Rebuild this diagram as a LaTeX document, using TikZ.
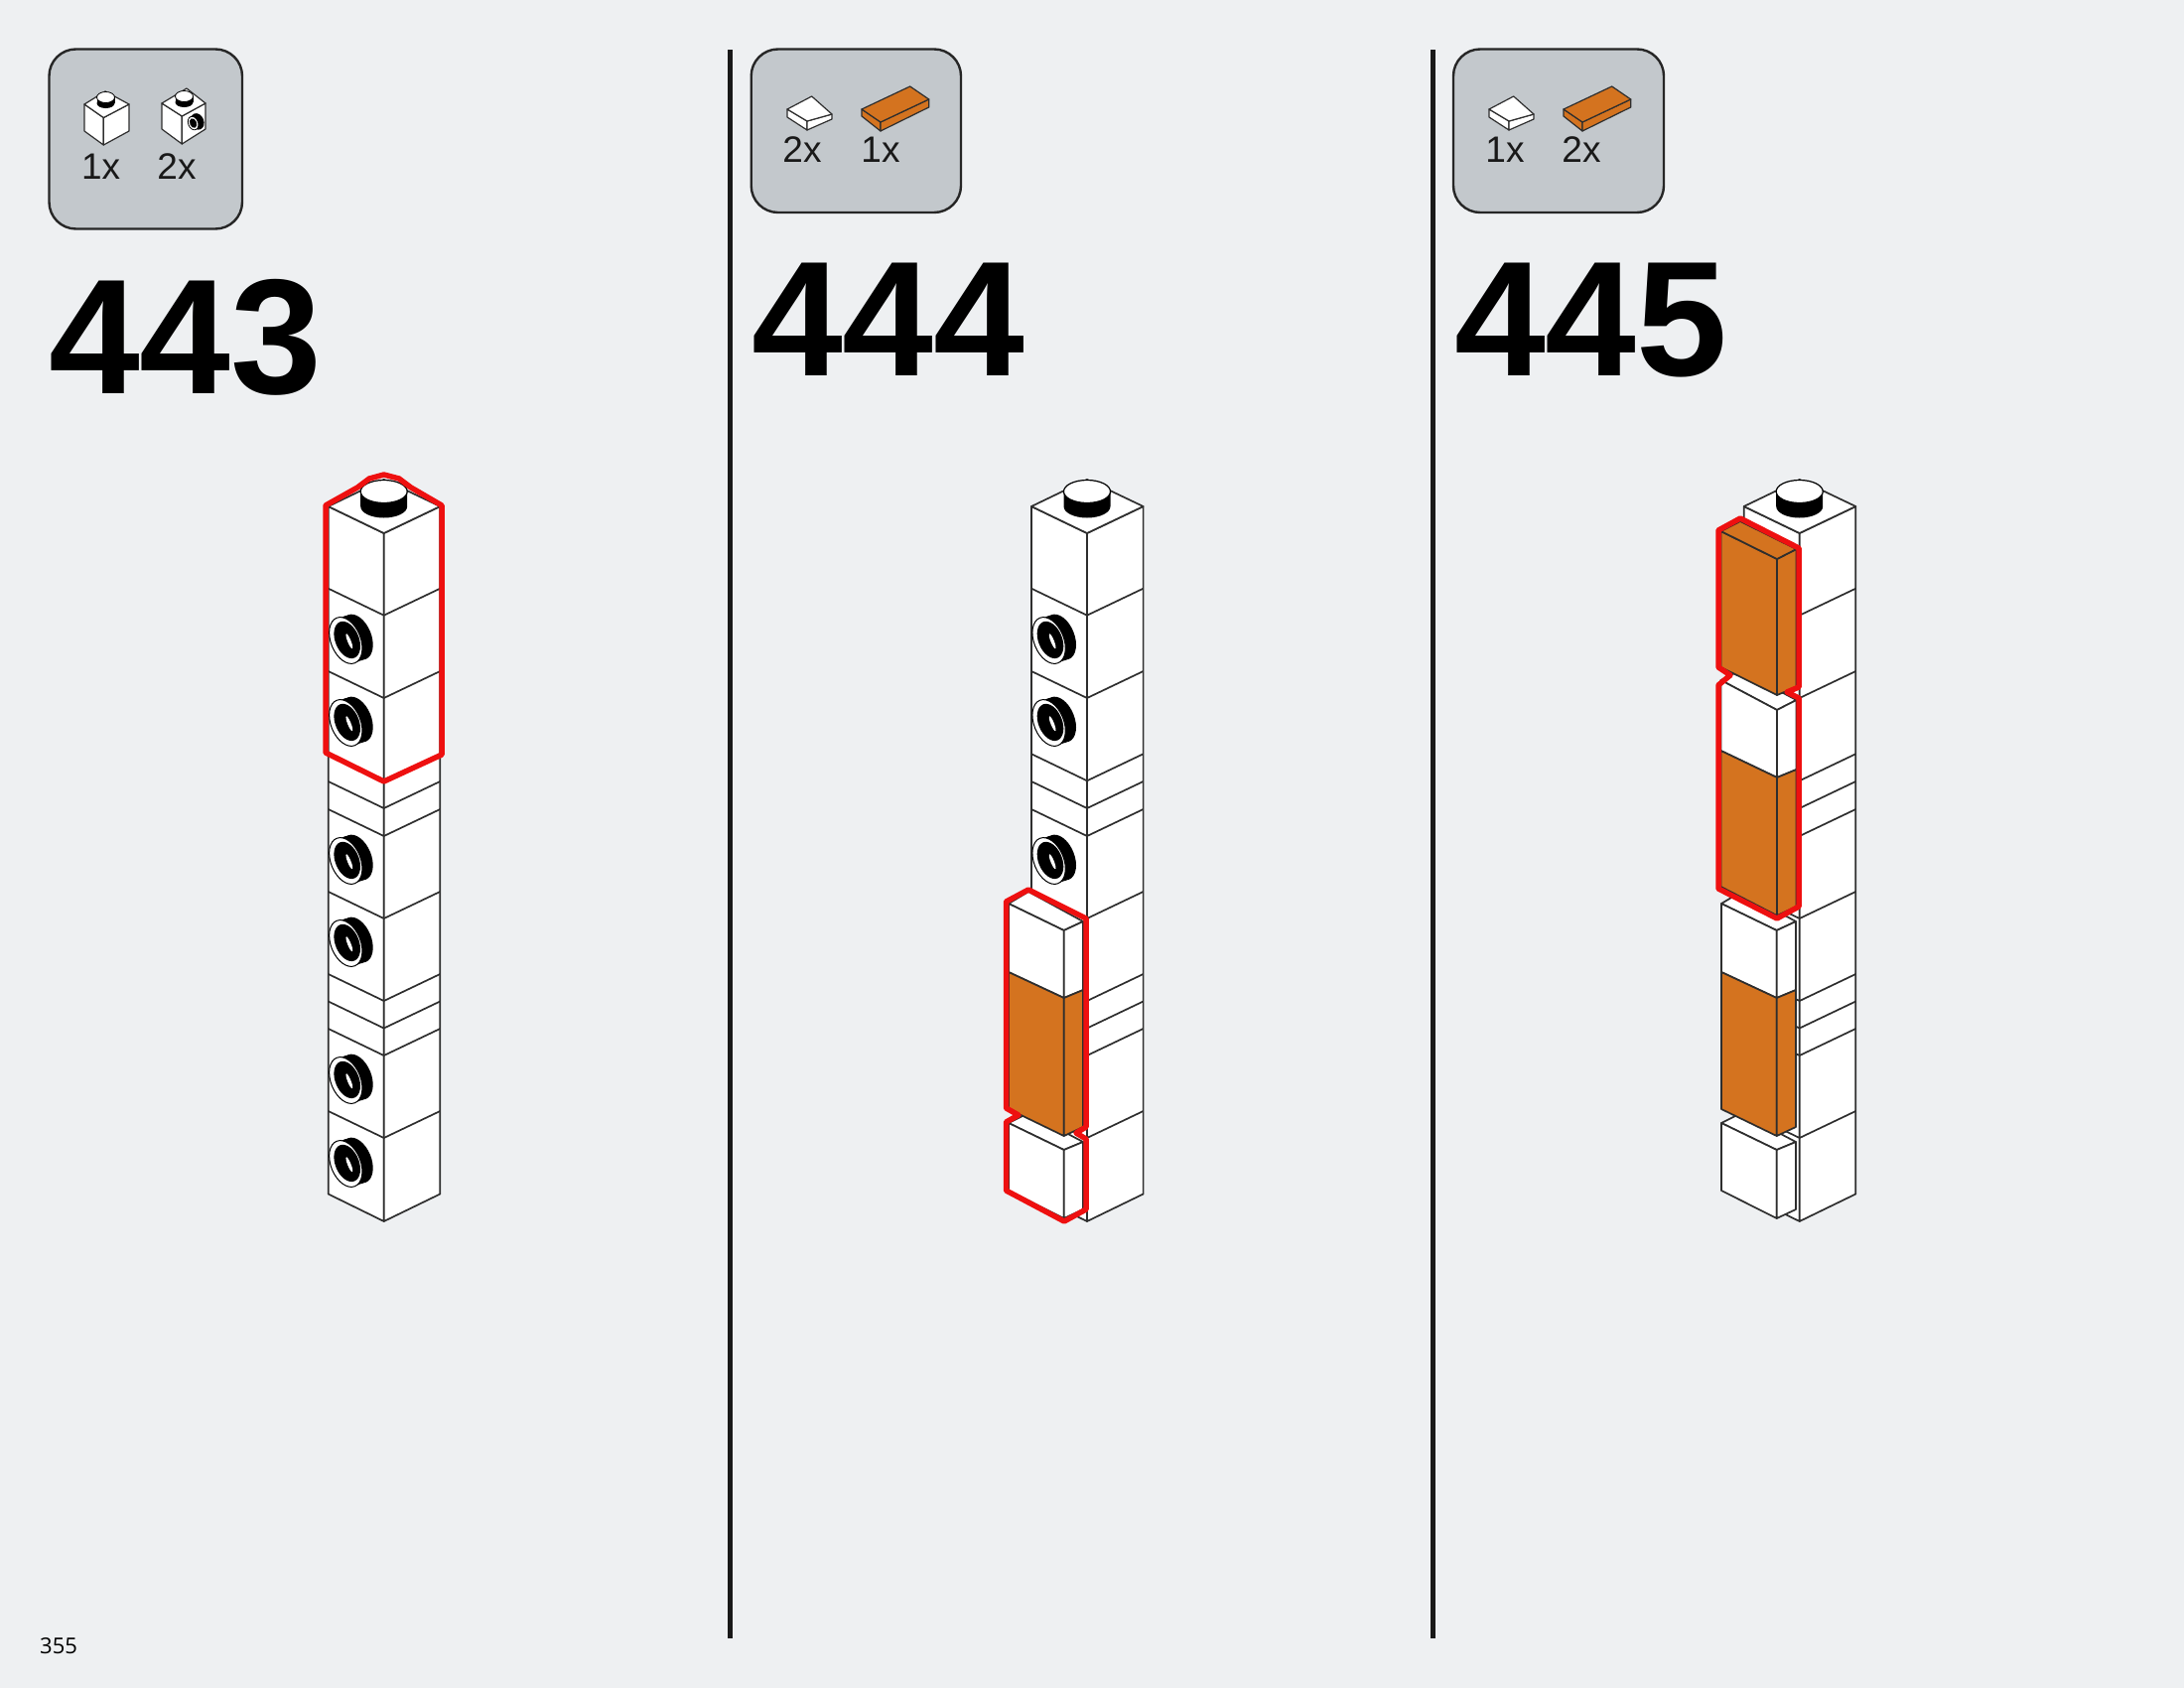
\documentclass[tikz,border=0pt]{standalone}
\usepackage{fontspec}
\setmainfont{Liberation Sans}
\newfontfamily\pagefont{Open Sans}
\definecolor{pagebg}{HTML}{EEF0F2}
\definecolor{boxbg}{HTML}{C3C8CC}
\definecolor{brickorange}{HTML}{D4731F}
\definecolor{hilite}{HTML}{EE1010}
\definecolor{ink}{HTML}{2E2E2E}
\tikzset{
  edge/.style={draw=ink,line width=1.7pt,line join=round},
  whiteface/.style={edge,fill=white},
  orangeface/.style={edge,fill=brickorange},
  redline/.style={draw=hilite,line width=5.5pt,line join=round},
  partsbox/.style={draw=black!85,fill=boxbg,line width=2.4pt,rounded corners=27pt},
  divider/.style={draw=black!90,line width=5pt},
  stepno/.style={font=\bfseries\fontsize{165}{165}\selectfont,anchor=base west,inner sep=0pt,text=black},
  countlbl/.style={font=\fontsize{37}{37}\selectfont,anchor=base,inner sep=0pt,text=black!90},
  pageno/.style={font=\pagefont\fontsize{22}{22}\selectfont,anchor=base west,inner sep=0pt,text=black}
}
% side stud centred on ring position
\newcommand{\sidestud}[2]{%
  \begin{scope}[shift={(#1,#2)},rotate=22]
    \fill[black] (0,0) ellipse [x radius=14.5pt,y radius=24pt];
    \fill[black] (4pt,-0.4pt) ellipse [x radius=14.5pt,y radius=24pt];
    \fill[black] (8pt,-0.7pt) ellipse [x radius=14.5pt,y radius=24pt];
    \fill[black] (11.7pt,-1pt) ellipse [x radius=14.5pt,y radius=24pt];
    \filldraw[fill=white,draw=black,line width=1pt] (0,0) ellipse [x radius=15pt,y radius=24.5pt];
    \fill[black] (1.5pt,0) ellipse [x radius=12pt,y radius=19.5pt];
    \fill[white] (3pt,-2pt) ellipse [x radius=1.7pt,y radius=8pt];
  \end{scope}}
% the full tower, in column-one coordinates
\newcommand{\towerbody}{%
  \path[whiteface] (330.7,510) -- (386.7,537) -- (386.7,1230) -- (330.7,1202.5) -- cycle;
  \path[whiteface] (443.3,510) -- (386.7,537) -- (386.7,1230) -- (443.3,1202.5) -- cycle;
  \path[whiteface] (330.7,510) -- (386.7,483) -- (443.3,510) -- (386.7,537) -- cycle;
  \foreach \sy in {592.7,676,759.3,787,815,898,981,1008.5,1036,1119}{
    \draw[edge] (330.7,\sy) -- (386.7,\sy+27) -- (443.3,\sy);
  }
  \fill[black] (363.2,495) -- (363.2,510) arc[start angle=180,end angle=360,x radius=23.5pt,y radius=11.5pt] -- (410.2,495) -- cycle;
  \filldraw[fill=white,draw=black,line width=1.2pt] (386.7,495) ellipse [x radius=23.5pt,y radius=11.5pt];
}
% panel of col. 2 coordinates
\newcommand{\lowerblock}{%
  \path[whiteface] (1016,1131) -- (1036,1121) -- (1091,1150) -- (1071.7,1158) -- cycle;
  \path[whiteface] (1016,1131) -- (1071.7,1158) -- (1071.7,1227) -- (1016,1199) -- cycle;
  \path[whiteface] (1091,1150) -- (1071.7,1158) -- (1071.7,1227) -- (1091,1218) -- cycle;
}
\newcommand{\upperblock}{%
  \path[whiteface] (1016,910) -- (1036,898) -- (1091,928) -- (1071.7,937) -- cycle;
  \path[whiteface] (1016,910) -- (1071.7,937) -- (1071.7,1005) -- (1016,979) -- cycle;
  \path[whiteface] (1091,928) -- (1071.7,937) -- (1071.7,1005) -- (1091,997) -- cycle;
  \path[orangeface] (1016,979) -- (1071.7,1005) -- (1071.7,1144) -- (1016,1117) -- cycle;
  \path[orangeface] (1091,997) -- (1071.7,1005) -- (1071.7,1144) -- (1091,1135) -- cycle;
}
\newcommand{\tilewhite}{%
  \path[whiteface,line width=1.2pt] (793,110) -- (813,122) -- (813,131) -- (793,118) -- cycle;
  \path[whiteface,line width=1.2pt] (813,122) -- (838,115) -- (838,120) -- (813,131) -- cycle;
  \path[whiteface,line width=1.2pt] (793,110) -- (817.7,97) -- (838,115) -- (813,122) -- cycle;
}
\newcommand{\tileorange}{%
  \path[orangeface,line width=1.2pt] (868,110) -- (887,123) -- (887,132) -- (868,117) -- cycle;
  \path[orangeface,line width=1.2pt] (887,123) -- (935.7,100) -- (935.7,108) -- (887,132) -- cycle;
  \path[orangeface,line width=1.2pt] (868,110) -- (916.7,87) -- (935.7,100) -- (887,123) -- cycle;
}
\newcommand{\cubeface}[9]{%
  \path[whiteface,line width=1.2pt] (#1,#2) -- (#3,#4) -- (#3,#6) -- (#1,#5) -- cycle;
  \path[whiteface,line width=1.2pt] (#7,#2) -- (#3,#4) -- (#3,#6) -- (#7,#5) -- cycle;
  \path[whiteface,line width=1.2pt] (#1,#2) -- (#8,#9) -- (#7,#2) -- (#3,#4) -- cycle;
}
\newcommand{\topstud}[2]{%
  \fill[black] (#1-9,#2) rectangle (#1+9,#2+6);
  \fill[black] (#1,#2+6) ellipse [x radius=9pt,y radius=5pt];
  \fill[white] (#1,#2) ellipse [x radius=9pt,y radius=5.5pt];
  \draw[black,line width=0.8pt] (#1,#2) ellipse [x radius=9pt,y radius=5.5pt];
}
\begin{document}
\begin{tikzpicture}[x=1pt,y=-1pt]
\useasboundingbox (0,0) rectangle (2200,1700);
\fill[pagebg] (0,0) rectangle (2200,1700);
\draw[divider] (735,50) -- (735,1650);
\draw[divider] (1443,50) -- (1443,1650);
% parts boxes
\path[partsbox] (49.5,49.5) rectangle (244,230.5);
\path[partsbox] (756.7,49.5) rectangle (968,214);
\path[partsbox] (1464,49.5) rectangle (1676,214);
% bricks box 1
\cubeface{85}{105}{104.3}{118.5}{132}{146}{130}{106}{92}
\topstud{106.5}{98}
\cubeface{163}{104}{183.3}{117}{130}{145}{207}{188}{89}
\topstud{185.5}{97}
\begin{scope}[shift={(196,123.5)},rotate=22]
  \fill[black] (3pt,0) ellipse [x radius=6.5pt,y radius=8.5pt];
  \filldraw[fill=white,draw=black,line width=0.8pt] (-1.5pt,0) ellipse [x radius=5pt,y radius=7pt];
  \fill[black] (-1.5pt,0) ellipse [x radius=3.4pt,y radius=5pt];
\end{scope}
\node[countlbl] (c1a) at (101.7,180) {1x};
\node[countlbl] (c1b) at (178,180) {2x};
% bricks box 2
\tilewhite \tileorange
\node[countlbl] (c2a) at (808,163) {2x};
\node[countlbl] (c2b) at (887,163) {1x};
% bricks box 3
\begin{scope}[shift={(707,0)}]
\tilewhite \tileorange
\node[countlbl] (c3a) at (809,163) {1x};
\node[countlbl] (c3b) at (886,163) {2x};
\end{scope}
% step numbers
\node[stepno] (s443) at (49,396) {443};
\node[stepno] (s444) at (757,378) {444};
\node[stepno] (s445) at (1465,378) {445};
\node[pageno] (pg) at (40,1665) {355};
% column 1
\towerbody
\foreach \sy in {645,728,867,950,1088,1172}{\sidestud{348.3}{\sy}}
\draw[redline] (328,509) -- (360,491) -- (372,482) -- (386.7,478) -- (402,482) -- (414,491) -- (445,509) -- (445,760) -- (386.7,787) -- (328,758) -- cycle;
% column 2
\begin{scope}[shift={(708.3,0)}]
\towerbody
\foreach \sy in {645,728,867}{\sidestud{348.3}{\sy}}
\end{scope}
\lowerblock \upperblock
\draw[redline] (1013.5,908) -- (1036,896) -- (1094,925) -- (1094,1135) -- (1084,1141) -- (1094,1147) -- (1094,1218) -- (1072,1230) -- (1013.5,1199) -- (1013.5,1130) -- (1026,1123) -- (1013.5,1116) -- cycle;
% column 3
\begin{scope}[shift={(1426,0)}]
\towerbody
\end{scope}
\begin{scope}[shift={(718,0)}]
\lowerblock \upperblock
\end{scope}
\path[whiteface] (1733.5,685) -- (1753,675) -- (1809.5,705) -- (1790,715) -- cycle;
\path[whiteface] (1733.5,685) -- (1790,715) -- (1790,783) -- (1733.5,756) -- cycle;
\path[whiteface] (1809.5,705) -- (1790,715) -- (1790,783) -- (1809.5,775) -- cycle;
\path[orangeface] (1733.5,756) -- (1790,783) -- (1790,922) -- (1733.5,893) -- cycle;
\path[orangeface] (1809.5,775) -- (1790,783) -- (1790,922) -- (1809.5,913) -- cycle;
\path[orangeface] (1733.5,535) -- (1790,563) -- (1790,700) -- (1733.5,672) -- cycle;
\path[orangeface] (1809.5,553) -- (1790,563) -- (1790,700) -- (1809.5,692) -- cycle;
\path[orangeface] (1733.5,535) -- (1753,525) -- (1809.5,553) -- (1790,563) -- cycle;
\draw[redline] (1731,534) -- (1753,522) -- (1812,552) -- (1812,692) -- (1800,697) -- (1812,703) -- (1812,913) -- (1790,925) -- (1731,895) -- (1731,690) -- (1743,680) -- (1731,672) -- cycle;
\end{tikzpicture}
\end{document}
